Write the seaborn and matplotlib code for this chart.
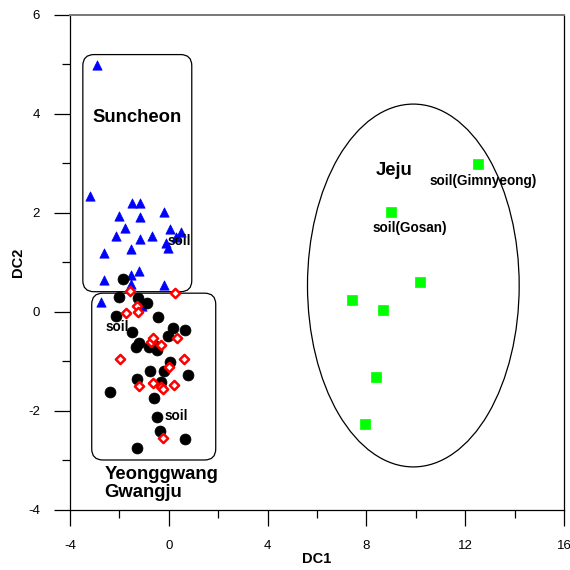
import matplotlib
matplotlib.use("Agg")
import matplotlib.pyplot as plt
from matplotlib.patches import FancyBboxPatch, Ellipse
from matplotlib.ticker import MultipleLocator
import seaborn as sns
import pandas as pd

# =========================
# DATA
# =========================

suncheon_x = [-2.91, -3.19, -1.47, -1.16, -0.21, -2.01, -1.16, -1.79, 0.04, 0.49,
              -2.14, -0.66, -1.16, 0.30, -0.12, -0.04, -2.63, -1.55, -1.20, -1.54,
              -2.63, -1.54, -0.20, -2.75, -1.09]
suncheon_y = [4.98, 2.34, 2.21, 2.20, 2.03, 1.94, 1.91, 1.69, 1.68, 1.62,
              1.54, 1.54, 1.47, 1.52, 1.39, 1.30, 1.19, 1.28, 0.83, 0.75,
              0.65, 0.57, 0.54, 0.21, 0.13]

yeonggwang_x = [-1.87, -2.01, -1.24, -0.89, -2.14, -0.43, -1.50, 0.16, 0.65, -0.05,
                -1.22, -1.33, -0.82, -0.49, -0.59, 0.03, -0.76, -0.21, 0.77, -1.29,
                -0.30, -2.40, -0.59, -0.49, -0.36, 0.66, -1.27]
yeonggwang_y = [0.66, 0.30, 0.28, 0.19, -0.09, -0.11, -0.41, -0.33, -0.36, -0.48,
                -0.63, -0.70, -0.70, -0.77, -0.67, -1.02, -1.19, -1.19, -1.27, -1.35,
                -1.41, -1.61, -1.74, -2.12, -2.41, -2.57, -2.75]

gwangju_x = [-1.58, 0.26, -1.27, -1.74, -1.24, -0.73, -0.62, 0.32, -0.30, -1.97,
             0.63, -0.01, -0.63, -1.20, 0.20, -0.31, -0.25, -0.24]
gwangju_y = [0.42, 0.39, 0.13, -0.03, -0.01, -0.60, -0.53, -0.53, -0.67, -0.95,
             -0.95, -1.12, -1.43, -1.49, -1.47, -1.52, -1.56, -2.55]

jeju_x = [12.50, 9.00, 10.16, 7.41, 8.69, 8.38, 7.94]
jeju_y = [2.98, 2.03, 0.60, 0.25, 0.05, -1.31, -2.26]

# point annotations: (text, x, y)
notas = [("soil", -0.04, 1.43), ("soil", -2.57, -0.30), ("soil", -0.16, -2.11),
         ("soil(Gimnyeong)", 10.55, 2.64), ("soil(Gosan)", 8.23, 1.69)]

# =========================
# FIGURE
# =========================

sns.set_style("white")
plt.rcParams["font.family"] = ["Liberation Sans", "DejaVu Sans"]
plt.rcParams["text.color"] = "black"
plt.rcParams["axes.labelcolor"] = "black"
plt.rcParams["xtick.color"] = "black"
plt.rcParams["ytick.color"] = "black"
plt.rcParams["axes.unicode_minus"] = False

fig = plt.figure(figsize=(5.7, 5.7), dpi=100)
ax = fig.add_axes([0.1228, 0.1053, 0.8667, 0.8684])

df_s = pd.DataFrame({"DC1": suncheon_x, "DC2": suncheon_y})
df_y = pd.DataFrame({"DC1": yeonggwang_x, "DC2": yeonggwang_y})
df_g = pd.DataFrame({"DC1": gwangju_x, "DC2": gwangju_y})
df_j = pd.DataFrame({"DC1": jeju_x, "DC2": jeju_y})

# group boxes
box1 = FancyBboxPatch((-3.48, 0.41), 4.41, 4.79,
                      boxstyle="round,pad=0,rounding_size=0.45",
                      mutation_aspect=0.5, fill=False, ec="black", lw=0.9, zorder=1)
box2 = FancyBboxPatch((-3.12, -2.99), 5.02, 3.37,
                      boxstyle="round,pad=0,rounding_size=0.45",
                      mutation_aspect=0.5, fill=False, ec="black", lw=0.9, zorder=1)
ax.add_patch(box1)
ax.add_patch(box2)
ax.add_patch(Ellipse((9.90, 0.535), 8.57, 7.33, fill=False, ec="black", lw=0.9, zorder=1))

sns.scatterplot(data=df_s, x="DC1", y="DC2", ax=ax, marker="^", s=45,
                color="#0000ff", edgecolor="#0000ff", linewidth=0.5, zorder=3)
sns.scatterplot(data=df_y, x="DC1", y="DC2", ax=ax, marker="o", s=62,
                color="black", edgecolor="black", linewidth=0.5, zorder=3)
sns.scatterplot(data=df_g, x="DC1", y="DC2", ax=ax, marker="D", s=22,
                facecolor="white", edgecolor="#ff0000", linewidth=1.8, zorder=4)
sns.scatterplot(data=df_j, x="DC1", y="DC2", ax=ax, marker="s", s=50,
                color="#00ff00", edgecolor="#00ff00", linewidth=0.5, zorder=3)

for txt, x, y in notas:
    ax.text(x, y, txt, fontsize=9.8, fontweight="bold", ha="left", va="center", zorder=5)

ax.text(-3.07, 3.92, "Suncheon", fontsize=13.3, fontweight="bold", va="center")
ax.text(8.37, 2.85, "Jeju", fontsize=13.3, fontweight="bold", va="center")
ax.text(-2.6, -3.47, "Yeonggwang\nGwangju", fontsize=13.3, fontweight="bold",
        va="center", linespacing=1.1)

# =========================
# AXES
# =========================

ax.set_xlim(-4, 16)
ax.set_ylim(-4, 6)
ax.xaxis.set_major_locator(MultipleLocator(4))
ax.xaxis.set_minor_locator(MultipleLocator(2))
ax.yaxis.set_major_locator(MultipleLocator(2))
ax.yaxis.set_minor_locator(MultipleLocator(1))
ax.tick_params(which="major", direction="out", length=11.5, width=0.9,
               labelsize=9.5, pad=10, bottom=True, left=True, color="black")
ax.tick_params(which="minor", direction="out", length=5.8, width=0.9,
               bottom=True, left=True, color="black")
for sp in ax.spines.values():
    sp.set_color("black")
    sp.set_linewidth(0.9)
ax.spines["top"].set_color("#777777")
ax.spines["top"].set_linewidth(1.4)

ax.set_xlabel("DC1", fontsize=10.5, fontweight="bold", labelpad=0)
ax.set_ylabel("DC2", fontsize=10.5, fontweight="bold", labelpad=2)

fig.savefig("out.png", dpi=100)
